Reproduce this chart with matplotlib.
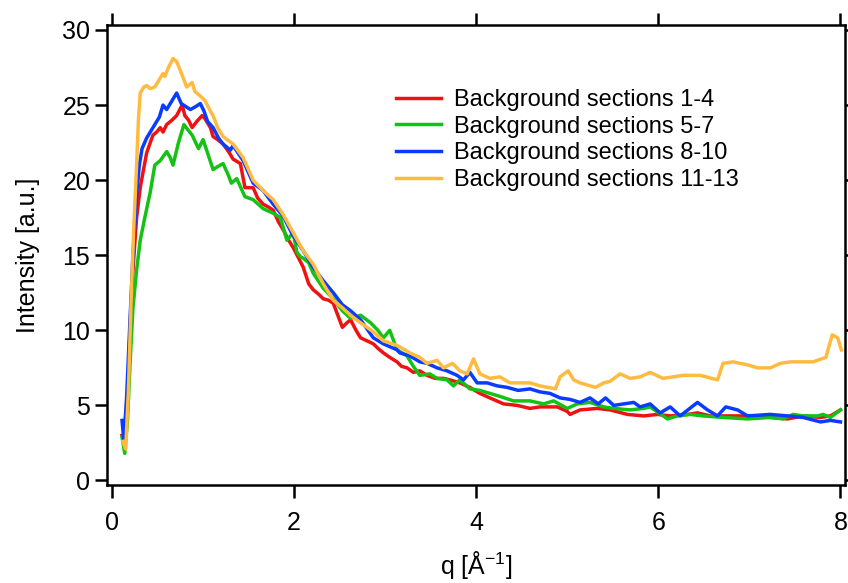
import matplotlib

matplotlib.use("Agg")

from matplotlib import pyplot as plt  # noqa: E402

RED = "#ee1212"
GREEN = "#14c214"
BLUE = "#0a3cff"
ORANGE = "#ffbb40"
TEXT = "#000000"

plt.rcParams["font.family"] = ["Liberation Sans", "DejaVu Sans"]
plt.rcParams["mathtext.fontset"] = "custom"
plt.rcParams["mathtext.rm"] = "Liberation Sans"
plt.rcParams["mathtext.it"] = "Liberation Sans:italic"

LABELS = [
    "Background sections 1-4",
    "Background sections 5-7",
    "Background sections 8-10",
    "Background sections 11-13",
]

# sections 1-4
q_red = [0.11, 0.14, 0.17, 0.20, 0.23, 0.27, 0.31, 0.34, 0.38, 0.42, 0.45, 0.49, 0.53, 0.56,
         0.60, 0.66, 0.71, 0.77, 0.80, 0.84, 0.88, 0.93, 0.99, 1.02, 1.08, 1.11, 1.16, 1.22,
         1.28, 1.33, 1.41, 1.46, 1.55, 1.60, 1.66, 1.72, 1.77, 1.83, 1.88, 1.94, 1.99, 2.05,
         2.10, 2.16, 2.21, 2.27, 2.32, 2.38, 2.43, 2.48, 2.53, 2.58, 2.62, 2.68, 2.73, 2.80,
         2.87, 2.92, 2.98, 3.05, 3.13, 3.18, 3.24, 3.31, 3.38, 3.46, 3.55, 3.64, 3.71, 3.82,
         3.93, 4.04, 4.15, 4.30, 4.45, 4.59, 4.70, 4.89, 5.00, 5.03, 5.14, 5.33, 5.47, 5.66,
         5.84, 5.99, 6.13, 6.32, 6.43, 6.57, 6.79, 7.04, 7.23, 7.42, 7.59, 7.78, 7.89, 8.00]
i_red = [3.0, 2.2, 5.0, 10.5, 14.0, 17.5, 19.5, 20.5, 21.8, 22.5, 23.0, 23.2, 23.5, 23.2,
         23.7, 24.0, 24.3, 25.0, 24.3, 24.0, 23.5, 23.9, 24.3, 24.1, 23.5, 22.9, 22.7, 22.4,
         21.9, 21.4, 21.1, 19.5, 19.5, 18.8, 18.4, 18.2, 18.0, 17.2, 16.7, 16.0, 15.5, 14.8,
         14.2, 13.1, 12.7, 12.4, 12.1, 12.0, 11.8, 11.0, 10.2, 10.5, 10.7, 10.0, 9.5, 9.3,
         9.1, 8.8, 8.5, 8.2, 7.9, 7.6, 7.5, 7.2, 7.3, 7.0, 6.8, 6.8, 6.7, 6.5,
         6.2, 5.8, 5.5, 5.1, 5.0, 4.8, 4.9, 4.9, 4.6, 4.4, 4.7, 4.8, 4.7, 4.4,
         4.3, 4.4, 4.3, 4.4, 4.5, 4.3, 4.3, 4.3, 4.2, 4.1, 4.3, 4.2, 4.3, 4.7]

# sections 5-7
q_green = [0.11, 0.14, 0.17, 0.20, 0.23, 0.27, 0.31, 0.36, 0.42, 0.47, 0.53, 0.60, 0.64, 0.67,
           0.73, 0.79, 0.84, 0.88, 0.95, 1.00, 1.05, 1.11, 1.16, 1.22, 1.28, 1.31, 1.37, 1.46,
           1.55, 1.66, 1.77, 1.85, 1.92, 1.99, 2.03, 2.07, 2.10, 2.16, 2.21, 2.32, 2.43, 2.53,
           2.62, 2.73, 2.84, 2.92, 2.98, 3.05, 3.13, 3.24, 3.31, 3.38, 3.49, 3.57, 3.68, 3.75,
           3.82, 3.93, 4.04, 4.15, 4.26, 4.41, 4.59, 4.74, 4.85, 5.00, 5.11, 5.25, 5.40, 5.51,
           5.69, 5.84, 5.91, 6.10, 6.21, 6.35, 6.49, 6.71, 6.98, 7.23, 7.37, 7.48, 7.59, 7.75,
           7.81, 7.89, 8.00]
i_green = [2.9, 1.8, 4.0, 8.0, 11.5, 14.0, 16.0, 17.5, 19.2, 21.0, 21.3, 21.9, 21.5, 21.0,
           22.5, 23.7, 23.3, 23.0, 22.1, 22.7, 21.8, 20.7, 20.9, 21.1, 20.3, 19.8, 20.1, 18.9,
           18.7, 18.1, 17.8, 17.5, 16.0, 16.5, 15.2, 14.9, 14.8, 14.5, 13.8, 12.8, 12.1, 11.3,
           10.8, 11.0, 10.5, 10.0, 9.5, 10.0, 8.7, 8.3, 7.6, 7.0, 7.1, 6.8, 6.7, 6.3,
           6.7, 6.1, 6.0, 5.8, 5.6, 5.3, 5.3, 5.1, 5.3, 4.8, 5.1, 5.2, 4.9, 4.8,
           4.7, 4.8, 4.9, 4.1, 4.3, 4.4, 4.3, 4.2, 4.1, 4.2, 4.1, 4.4, 4.3, 4.3,
           4.4, 4.2, 4.7]

# sections 8-10
q_blue = [0.11, 0.13, 0.16, 0.20, 0.23, 0.27, 0.30, 0.33, 0.38, 0.42, 0.47, 0.52, 0.56, 0.60,
          0.66, 0.71, 0.76, 0.81, 0.86, 0.92, 0.97, 1.01, 1.05, 1.11, 1.17, 1.22, 1.30, 1.33,
          1.44, 1.55, 1.66, 1.77, 1.88, 1.98, 2.10, 2.21, 2.32, 2.43, 2.53, 2.62, 2.73, 2.87,
          2.98, 3.13, 3.16, 3.27, 3.38, 3.46, 3.57, 3.68, 3.79, 3.86, 3.93, 4.01, 4.12, 4.23,
          4.34, 4.46, 4.59, 4.70, 4.81, 4.92, 5.03, 5.14, 5.25, 5.34, 5.42, 5.51, 5.73, 5.80,
          5.91, 6.02, 6.13, 6.24, 6.43, 6.54, 6.65, 6.74, 6.87, 6.98, 7.23, 7.42, 7.59, 7.78,
          7.89, 8.00]
i_blue = [4.0, 2.7, 5.5, 11.0, 15.0, 19.0, 21.0, 22.1, 22.8, 23.2, 23.7, 24.2, 25.0, 24.7,
          25.3, 25.8, 25.1, 24.9, 24.7, 24.9, 25.1, 24.6, 23.9, 23.5, 22.8, 22.4, 22.0, 22.3,
          21.3, 19.8, 19.3, 18.4, 17.6, 16.4, 15.3, 14.2, 13.3, 12.5, 11.7, 11.3, 10.7, 9.5,
          9.1, 8.7, 8.5, 8.3, 7.9, 7.8, 7.5, 7.3, 7.0, 6.7, 7.2, 6.5, 6.5, 6.3,
          6.2, 6.0, 6.1, 5.9, 5.8, 5.5, 5.4, 5.2, 5.5, 5.1, 5.5, 5.0, 5.2, 4.9,
          5.1, 4.5, 4.9, 4.3, 5.2, 4.7, 4.3, 4.9, 4.7, 4.3, 4.4, 4.3, 4.2, 3.9,
          4.0, 3.9]

# sections 11-13
q_orange = [0.12, 0.15, 0.18, 0.21, 0.24, 0.27, 0.29, 0.31, 0.35, 0.38, 0.42, 0.47, 0.53, 0.56,
            0.58, 0.62, 0.67, 0.71, 0.75, 0.82, 0.88, 0.91, 0.97, 1.02, 1.08, 1.11, 1.16, 1.22,
            1.33, 1.44, 1.55, 1.66, 1.77, 1.88, 1.99, 2.10, 2.21, 2.32, 2.43, 2.53, 2.62, 2.73,
            2.87, 2.98, 3.13, 3.27, 3.38, 3.46, 3.57, 3.64, 3.74, 3.82, 3.90, 3.97, 4.04, 4.15,
            4.26, 4.37, 4.48, 4.59, 4.70, 4.87, 4.92, 5.01, 5.07, 5.14, 5.31, 5.40, 5.47, 5.58,
            5.69, 5.80, 5.91, 6.05, 6.16, 6.27, 6.46, 6.65, 6.71, 6.82, 6.98, 7.09, 7.23, 7.34,
            7.45, 7.70, 7.84, 7.91, 7.97, 8.01]
i_orange = [2.6, 2.1, 6.0, 12.0, 17.0, 21.0, 24.0, 25.8, 26.2, 26.3, 26.1, 26.2, 26.8, 27.1,
            26.9, 27.5, 28.1, 27.9, 27.3, 26.2, 26.5, 25.9, 25.6, 25.3, 24.6, 24.3, 23.5, 22.9,
            22.4, 21.5, 20.0, 19.3, 18.7, 17.7, 16.5, 15.3, 14.4, 13.1, 12.0, 11.5, 11.0, 10.5,
            9.9, 9.3, 9.0, 8.5, 8.2, 7.8, 8.0, 7.5, 7.8, 7.3, 7.1, 8.1, 7.1, 6.8,
            6.9, 6.5, 6.5, 6.5, 6.3, 6.1, 6.9, 7.3, 6.7, 6.5, 6.2, 6.5, 6.6, 7.1,
            6.8, 6.9, 7.2, 6.8, 6.9, 7.0, 7.0, 6.7, 7.8, 7.9, 7.7, 7.5, 7.5, 7.8,
            7.9, 7.9, 8.2, 9.7, 9.5, 8.7]

SERIES = [
    (q_red, i_red, RED),
    (q_green, i_green, GREEN),
    (q_blue, i_blue, BLUE),
    (q_orange, i_orange, ORANGE),
]


def main() -> None:
    fig = plt.figure(figsize=(8.48, 5.83), dpi=100)
    ax = fig.add_axes([107 / 848, 1 - 485 / 583, 738 / 848, 460 / 583])

    for (q, inten, color), label in zip(SERIES, LABELS):
        ax.plot(q, inten, color=color, linewidth=2.5, label=label,
                solid_joinstyle="round")

    ax.set_xlim(-0.055, 8.05)
    ax.set_ylim(-0.3, 30.33)
    ax.set_xticks([0, 2, 4, 6, 8])
    ax.set_yticks([0, 5, 10, 15, 20, 25, 30])

    for spine in ax.spines.values():
        spine.set_linewidth(1.8)
    ax.tick_params(direction="out", length=9, width=1.8, labelsize=18,
                   top=True, right=True, colors=TEXT)
    ax.tick_params(axis="x", pad=10)
    ax.tick_params(axis="y", pad=3)

    ax.set_xlabel("q [Å$^{-1}$]", fontsize=18, labelpad=10)
    ax.set_ylabel("Intensity [a.u.]", fontsize=18, labelpad=16)

    ax.legend(
        loc="upper left",
        bbox_to_anchor=(396 / 848, 1 - 89 / 583),
        bbox_transform=fig.transFigure,
        frameon=False,
        fontsize=17,
        handlelength=1.9,
        handletextpad=0.55,
        labelspacing=0.2,
        borderpad=0,
        borderaxespad=0,
    )

    fig.savefig("out.png", dpi=100)
    plt.close(fig)


main()
